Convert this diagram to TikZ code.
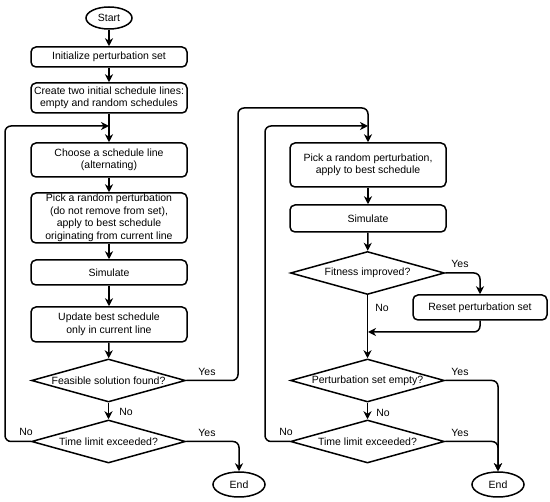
\documentclass[tikz,border=0pt]{standalone}
\usepackage{fontspec}
\setmainfont{Liberation Sans}
\usetikzlibrary{shapes.geometric,arrows.meta}
\begin{document}
\begin{tikzpicture}[x=1pt,y=-1pt,
  every node/.style={font=\fontsize{10.5}{12.5}\selectfont},
  box/.style={draw,line width=1.5pt,rounded corners=5pt,align=center,inner sep=0pt,minimum width=156pt},
  term/.style={draw,line width=1.5pt,ellipse,inner sep=0pt},
  decision/.style={draw,line width=1.5pt,diamond,shape aspect=3.6,inner sep=0pt,minimum width=154pt,minimum height=43pt},
  flow/.style={line width=1.5pt,rounded corners=6pt,-{Stealth[length=8pt,width=8pt,inset=2.5pt]}},
  lbl/.style={inner sep=0pt}
]
\useasboundingbox (0,0) rectangle (550,502);
% left column
\node[term,minimum width=46pt,minimum height=22pt] (start) at (109,18) {Start};
\node[box,minimum height=20pt] (init) at (109,57) {Initialize perturbation set};
\node[box,minimum height=30pt] (create) at (109,98) {Create two initial schedule lines:\\empty and random schedules};
\node[box,minimum height=34pt] (choose) at (109,160) {Choose a schedule line\\(alternating)};
\node[box,minimum height=50pt] (pickl) at (109,218) {Pick a random perturbation\\(do not remove from set),\\apply to best schedule\\originating from current line};
\node[box,minimum height=25pt] (siml) at (109,272.5) {Simulate};
\node[box,minimum height=35pt] (update) at (109,324.5) {Update best schedule\\only in current line};
\node[decision] (feas) at (108.5,380.5) {Feasible solution found?};
\node[decision] (timel) at (108.5,441.5) {Time limit exceeded?};
\node[term,minimum width=52pt,minimum height=25pt] (endl) at (239,484.5) {End};
\coordinate (mergel) at (109,126);
% right column
\node[box,minimum height=44pt] (pickr) at (368,165) {Pick a random perturbation,\\apply to best schedule};
\node[box,minimum height=27pt] (simr) at (368,218.5) {Simulate};
\node[decision] (fit) at (367.5,273) {Fitness improved?};
\node[box,minimum width=134pt,minimum height=25pt] (reset) at (480,307.5) {Reset perturbation set};
\node[decision] (pse) at (367.5,380.5) {Perturbation set empty?};
\node[decision] (timer) at (367.5,441.5) {Time limit exceeded?};
\node[term,minimum width=52pt,minimum height=25pt] (endr) at (498,484.5) {End};
\coordinate (merger) at (368,126);
\coordinate (join) at (368,332);
% left connectors
\draw[flow] (start) -- (init);
\draw[flow] (init) -- (create);
\draw[flow] (create) -- (choose);
\draw[flow] (choose) -- (pickl);
\draw[flow] (pickl) -- (siml);
\draw[flow] (siml) -- (update);
\draw[flow] (update) -- (feas);
\draw[flow] (feas) -- (timel);
\draw[flow] (timel.east) -- (239,441.5) -- (endl.north);
\draw[flow] (timel.west) -- (5,441.5) -- (5,126) -- (mergel);
\draw[flow] (feas.east) -- (238,380.5) -- (238,108) -- (368,108) -- (pickr.north);
% right connectors
\draw[flow] (pickr) -- (simr);
\draw[flow] (simr) -- (fit);
\draw[flow] (fit.east) -- (480,273) -- (reset.north);
\draw[flow] (fit.south) -- (pse.north);
\draw[flow] (reset.south) -- (480,332) -- (join);
\draw[flow] (pse.east) -- (498,380.5) -- (endr.north);
\draw[flow] (timer.east) -- (498,441.5) -- (endr.north);
\draw[flow] (pse) -- (timer);
\draw[flow] (timer.west) -- (265,441.5) -- (265,126) -- (merger);
% labels
\node[lbl] (y1) at (207,372) {Yes};
\node[lbl] (n1) at (126,412) {No};
\node[lbl] (n2) at (26,432) {No};
\node[lbl] (y2) at (207,433) {Yes};
\node[lbl] (y3) at (460,264) {Yes};
\node[lbl] (n3) at (382,308) {No};
\node[lbl] (y4) at (460,372) {Yes};
\node[lbl] (n4) at (383,413) {No};
\node[lbl] (n5) at (286,432) {No};
\node[lbl] (y5) at (460,433) {Yes};
\end{tikzpicture}
\end{document}
